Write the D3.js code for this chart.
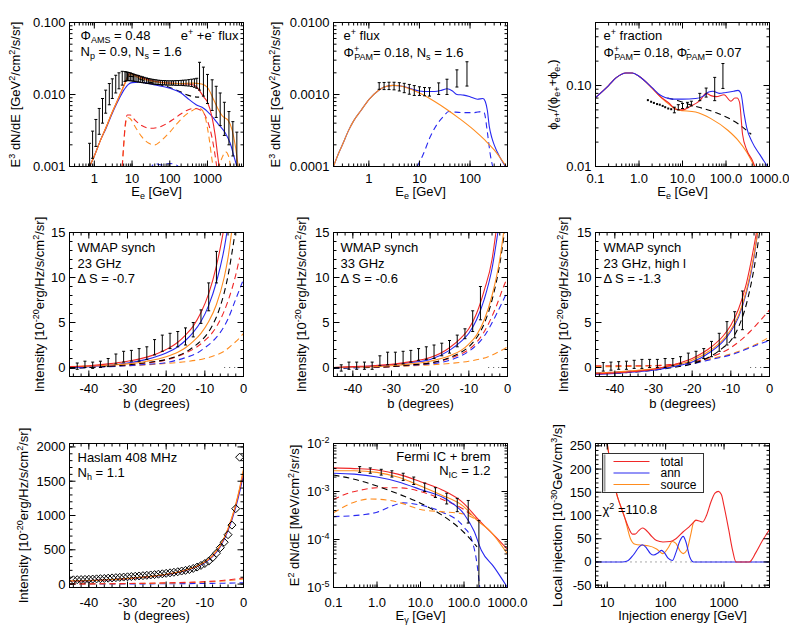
<!DOCTYPE html>
<html><head><meta charset="utf-8">
<script src="https://cdn.jsdelivr.net/npm/d3@7"></script>
<style>
body{margin:0;background:#fff;}
svg text{font-family:"Liberation Sans",Arial,Helvetica,sans-serif;font-size:13px;fill:#000;}
</style></head><body>
<svg id="chart" width="789" height="631"></svg>
<script>
// ---------- data ----------
// panel 1: e+ + e- flux   [E, value]  / bars [E, lo, hi]
var p1Red = [[0.75,0.001],[1,0.0014],[1.5,0.0024],[2,0.0034],[3,0.0057],[4,0.008],[5,0.0105],[6,0.013],[7,0.0158],[8,0.0186],[9,0.0195],[10,0.0193],[15,0.0178],[20,0.0168],[40,0.0153],[100,0.0144],[200,0.0141],[300,0.014],[450,0.0134],[600,0.0115],[800,0.0092],[1000,0.0078],[1300,0.005],[1600,0.0027],[1900,0.0013],[2100,0.0009]];
var p1Orange = [[0.75,0.001],[1,0.0014],[1.5,0.0024],[2,0.0034],[3,0.0057],[4,0.008],[5,0.0105],[6,0.013],[7,0.0158],[8,0.0182],[9,0.019],[10,0.0188],[15,0.0172],[20,0.0163],[40,0.015],[100,0.0143],[200,0.0142],[400,0.0144],[700,0.014],[1000,0.0125],[1500,0.0082],[2000,0.006],[2500,0.005],[3500,0.0044],[4500,0.0032],[5500,0.0019],[6500,0.001]];
var p1Blue = [[0.75,0.001],[1,0.0014],[1.5,0.0024],[2,0.0033],[3,0.0055],[4,0.0076],[5,0.0096],[6,0.0114],[7,0.0128],[8,0.0138],[10,0.0146],[15,0.0148],[20,0.0146],[40,0.0136],[100,0.0122],[200,0.0105],[300,0.0088],[500,0.0072],[800,0.0064],[1000,0.0058],[1500,0.0046],[2000,0.0038],[3000,0.0029],[4000,0.0021],[5000,0.0014],[6000,0.001]];
var p1BlackDash = [[8,0.018],[10,0.0178],[15,0.0166],[20,0.0157],[40,0.0142],[100,0.0125],[200,0.0108],[300,0.0098],[450,0.0093],[600,0.0092]];
var p1RedDash = [[5.5,0.001],[6,0.002],[6.5,0.0035],[7.5,0.0052],[9,0.0052],[12,0.0044],[18,0.0037],[30,0.0034],[50,0.0035],[80,0.0039],[130,0.0046],[200,0.0054],[300,0.0061],[450,0.0064],[600,0.0062],[800,0.0055],[1000,0.0043],[1300,0.0026],[1600,0.0014],[1800,0.0009]];
var p1OrangeDash = [[5.5,0.001],[6,0.0019],[6.5,0.0033],[7.5,0.0048],[9,0.0046],[12,0.0036],[18,0.0026],[28,0.0021],[40,0.002],[60,0.0023],[100,0.003],[160,0.004],[250,0.0051],[400,0.006],[550,0.0065],[700,0.0062],[900,0.0045],[1100,0.0025],[1300,0.0013],[1450,0.0009]];
var p1OrangeDash2 = [[1900,0.0009],[2400,0.0013],[3000,0.0016],[3600,0.0014],[4200,0.0009]];
var p1BlueDash = [[30,0.0009],[40,0.0011],[60,0.00105],[100,0.0011],[150,0.00105],[200,0.0009]];
var p1Bars = [[0.75,0.0009,0.0021],[0.9,0.0013,0.0031],[1.1,0.0019,0.0045],[1.35,0.0028,0.0064],[1.65,0.004,0.0088],[2.0,0.0055,0.0115],[2.5,0.0072,0.0142],[3.0,0.0088,0.0165],[3.7,0.0105,0.0185],[4.5,0.012,0.02],[5.5,0.0135,0.021],
  [6.5,0.0152,0.0208],[7,0.0155,0.0206],[7.6,0.0156,0.0204],[8.2,0.0156,0.0202],[9,0.0155,0.02],[10,0.0154,0.0196],[11,0.0153,0.0192],[12,0.0152,0.0189],[13.5,0.015,0.0186],[15,0.0149,0.0183],[17,0.0147,0.0179],[19,0.0146,0.0176],[21,0.0145,0.0173],[24,0.0143,0.017],[27,0.0142,0.0167],[30,0.0141,0.0165],[34,0.014,0.0163],[38,0.0139,0.0161],[43,0.0138,0.016],[49,0.0137,0.0158],[56,0.0137,0.0157],[64,0.0136,0.0156],[73,0.0136,0.0156],[83,0.0135,0.0155],[95,0.0135,0.0155],[110,0.0135,0.0155],[125,0.0135,0.0155],[145,0.0134,0.0156],[170,0.0134,0.0156],[200,0.0134,0.0157],[230,0.0133,0.0158],[270,0.0132,0.0159],[320,0.0131,0.0161],[380,0.0129,0.0163],[450,0.0126,0.0165],[520,0.0122,0.0168],
  [615,0.0115,0.028],[780,0.0095,0.024],[1000,0.0075,0.019],[1330,0.006,0.016],[1700,0.0048,0.013],[2170,0.0037,0.0105],[2800,0.0027,0.0078],[3700,0.002,0.0058],[4700,0.0014,0.0042],[6000,0.001,0.003]];

// panel 2: e+ flux
var p2Orange = [[0.2,0.0001],[0.25,0.00015],[0.3,0.0002],[0.4,0.00032],[0.5,0.00043],[0.7,0.0006],[1,0.00085],[1.5,0.00112],[2,0.00127],[3,0.00134],[4,0.00132],[6,0.00122],[10,0.00105],[20,0.0008],[36,0.00061],[60,0.00047],[120,0.00032],[200,0.00023],[300,0.00017],[520,0.0001]];
var p2Blue = [[0.2,0.0001],[0.25,0.00015],[0.3,0.0002],[0.4,0.00032],[0.5,0.00043],[0.7,0.0006],[1,0.00085],[1.5,0.00112],[2,0.00127],[3,0.00134],[4,0.00132],[6,0.00124],[8,0.00116],[10,0.00112],[15,0.0011],[20,0.0011],[28,0.00115],[35,0.0012],[45,0.00112],[55,0.001],[75,0.00098],[100,0.00093],[140,0.00086],[180,0.00088],[200,0.0008],[220,0.0006],[240,0.00036],[270,0.00025],[300,0.0002],[400,0.00013],[500,0.0001]];
var p2BlueDash = [[9,0.0001],[12,0.00015],[16,0.00025],[22,0.00038],[30,0.0005],[38,0.00058],[50,0.00057],[80,0.00056],[120,0.00056],[170,0.00058],[190,0.00056],[220,0.0003],[250,0.00015],[280,0.0001]];
var p2Bars = [[1.6,0.00118,0.00146],[2.0,0.00117,0.00147],[2.5,0.00117,0.00148],[3.15,0.00116,0.00148],[4.0,0.00112,0.00146],[5.0,0.00106,0.00143],[6.3,0.00101,0.00138],[7.9,0.00097,0.00133],[10,0.00097,0.00128],[12.6,0.00096,0.00125],[15.8,0.00095,0.00124],[24,0.001,0.00145],[35,0.001,0.00163],[55,0.00127,0.0022],[87,0.00131,0.00285]];

// panel 3: positron fraction
var p3Orange = [[0.1,0.071],[0.2,0.1],[0.3,0.125],[0.5,0.143],[0.7,0.143],[1,0.13],[2,0.093],[3,0.074],[5,0.058],[8,0.05],[20,0.047],[45,0.039],[110,0.028],[190,0.021],[300,0.015],[450,0.01]];
var p3Blue = [[0.1,0.071],[0.2,0.1],[0.3,0.125],[0.5,0.143],[0.7,0.143],[1,0.13],[2,0.094],[3,0.077],[4,0.071],[6,0.068],[10,0.068],[20,0.069],[30,0.074],[40,0.083],[50,0.085],[70,0.08],[100,0.082],[150,0.085],[190,0.087],[220,0.08],[260,0.045],[300,0.03],[400,0.02],[600,0.014],[900,0.01]];
var p3Red = [[0.1,0.071],[0.2,0.1],[0.3,0.125],[0.5,0.143],[0.7,0.143],[1,0.13],[2,0.093],[3,0.074],[5,0.06],[7,0.051],[10,0.05],[15,0.055],[25,0.065],[35,0.08],[45,0.075],[60,0.073],[90,0.077],[130,0.064],[160,0.07],[180,0.07],[205,0.062],[240,0.025],[300,0.016],[400,0.012],[460,0.01]];
var p3BlackDash = [[4.5,0.07],[8,0.065],[15,0.058],[30,0.052],[60,0.046],[110,0.04],[200,0.033],[380,0.025]];
var p3Dots = [[1.6,0.066],[1.9,0.063],[2.2,0.061],[2.6,0.059],[3.0,0.058],[3.5,0.056],[4.0,0.054],[4.7,0.052],[5.5,0.051]];
var p3Bars = [[6.5,0.046,0.054],[8,0.05,0.058],[10,0.052,0.06],[13,0.054,0.062],[16,0.056,0.064],[25,0.065,0.08],[35,0.072,0.093],[55,0.065,0.126],[85,0.092,0.187]];

// panel 4: WMAP 23 GHz   [b, value] / bars [b, lo, hi]
var p4Red = [[-45,0.1],[-40,0.2],[-35,0.4],[-30,0.7],[-25,1.15],[-20,2.0],[-17,2.8],[-15,3.6],[-13,4.6],[-11,6.1],[-9,8.2],[-7,11.3],[-6,13.3],[-5,15.6]];
var p4Blue = [[-45,0.0],[-40,0.1],[-35,0.25],[-30,0.5],[-25,0.9],[-20,1.6],[-17,2.3],[-15,3.0],[-13,3.9],[-11,5.1],[-9,6.9],[-7,9.5],[-5,13.2],[-4,15.8]];
var p4Orange = [[-45,0.1],[-40,0.15],[-35,0.25],[-30,0.4],[-25,0.7],[-20,1.2],[-17,1.7],[-15,2.2],[-13,2.9],[-11,3.8],[-9,5.1],[-7,7.0],[-5,10.0],[-4,12.2],[-3,15.3]];
var p4BlackDash = [[-45,-0.1],[-40,0.0],[-30,0.3],[-25,0.55],[-20,0.9],[-15,1.7],[-12,2.6],[-10,3.4],[-8,4.7],[-6,6.8],[-4,10.2],[-3,12.7],[-2,15.5]];
var p4RedDash = [[-45,0.0],[-40,0.1],[-30,0.3],[-25,0.5],[-20,0.85],[-15,1.6],[-12,2.3],[-10,3.0],[-8,3.9],[-6,5.3],[-4,7.4],[-2,10.3],[-1,12.2]];
var p4BlueDash = [[-45,-0.1],[-40,0.0],[-30,0.2],[-25,0.35],[-20,0.55],[-15,1.1],[-12,1.6],[-10,2.2],[-8,2.9],[-6,3.9],[-4,5.4],[-2,7.6],[0,9.8]];
var p4OrangeDash = [[-45,0.0],[-40,0.05],[-30,0.2],[-25,0.3],[-20,0.45],[-15,0.65],[-10,1.0],[-7,1.4],[-5,1.8],[-3,2.5],[-1,3.3],[0,3.8]];
var p4Bars = [[-43,-0.2,0.5],[-41,0.0,0.7],[-39,-0.1,0.6],[-37,0.0,0.7],[-35,0.1,1.0],[-33,0.4,1.5],[-31,0.6,1.8],[-29,0.7,1.9],[-27,0.7,2.1],[-25,0.9,2.3],[-23,1.4,3.1],[-21,1.8,3.6],[-19,2.1,3.8],[-17,2.3,4.0],[-15,2.5,4.4],[-13,3.4,5.0],[-11,4.9,6.4],[-9,6.3,9.4],[-7,9.4,12.9]];

// panel 5: WMAP 33 GHz
var p5Red = [[-45,0.0],[-40,0.1],[-35,0.2],[-30,0.35],[-25,0.65],[-20,1.1],[-15,2.2],[-12,3.3],[-10,4.3],[-8,6.0],[-6,8.6],[-4,12.0],[-3,15.0]];
var p5Blue = [[-45,0.0],[-40,0.05],[-35,0.15],[-30,0.3],[-25,0.55],[-20,0.9],[-15,1.9],[-12,2.9],[-10,3.8],[-8,5.3],[-6,7.6],[-4,11.0],[-2.5,15.0]];
var p5Orange = [[-45,0.0],[-40,0.05],[-30,0.2],[-25,0.4],[-20,0.7],[-15,1.3],[-12,1.9],[-10,2.6],[-8,3.6],[-6,5.3],[-4,8.0],[-2,12.0],[-1,15.0]];
var p5BlackDash = [[-45,-0.1],[-40,0.0],[-30,0.1],[-25,0.3],[-20,0.5],[-15,1.1],[-12,1.7],[-10,2.3],[-8,3.3],[-6,4.9],[-4,7.5],[-2,11.5],[-0.8,15.0]];
var p5RedDash = [[-45,0.0],[-40,0.0],[-30,0.1],[-25,0.3],[-20,0.5],[-15,1.0],[-12,1.5],[-10,2.0],[-8,2.8],[-6,4.0],[-3,6.7],[-1,9.0],[0,10.0]];
var p5BlueDash = [[-45,-0.1],[-40,-0.05],[-30,0.1],[-25,0.25],[-20,0.4],[-15,0.8],[-12,1.3],[-10,1.8],[-8,2.5],[-6,3.5],[-3,5.8],[0,8.5]];
var p5OrangeDash = [[-45,0.0],[-40,0.0],[-30,0.1],[-20,0.3],[-15,0.45],[-10,0.7],[-5,1.2],[-2,1.8],[0,2.3]];
var p5Bars = [[-43,-0.4,0.3],[-41,-0.2,0.6],[-39,-0.2,0.6],[-37,-0.2,0.6],[-35,-0.2,0.6],[-33,0.2,1.3],[-31,0.3,1.7],[-29,0.3,1.7],[-27,0.4,1.8],[-25,0.6,1.9],[-23,0.8,2.1],[-21,0.9,2.3],[-19,1.0,2.5],[-17,1.3,2.7],[-15,1.6,3.0],[-13,2.3,3.6],[-11,3.2,4.3],[-9,4.0,6.3],[-7,5.3,9.0]];

// panel 6: WMAP 23 GHz, high l
var p6Red = [[-45,-0.7],[-40,-0.6],[-35,-0.45],[-30,-0.2],[-25,0.3],[-20,1.0],[-15,2.3],[-12,3.5],[-10,4.7],[-8,6.5],[-6,9.3],[-4,13.5],[-3.3,15.2]];
var p6Blue = [[-45,-0.75],[-40,-0.65],[-35,-0.5],[-30,-0.3],[-25,0.1],[-20,0.6],[-15,1.8],[-12,2.9],[-10,4.0],[-8,5.6],[-6,8.3],[-4,12.3],[-3,15.2]];
var p6Orange = [[-45,-0.6],[-40,-0.5],[-35,-0.35],[-30,-0.15],[-25,0.2],[-20,0.8],[-15,2.0],[-12,3.1],[-10,4.2],[-8,5.8],[-6,8.5],[-4,12.5],[-3,15.2]];
var p6BlackDash = [[-45,-0.7],[-35,-0.5],[-25,0.0],[-20,0.4],[-15,1.3],[-12,2.2],[-10,3.0],[-8,4.5],[-6,7.0],[-4,11.0],[-2.5,15.2]];
var p6RedDash = [[-45,0.2],[-40,0.2],[-30,0.2],[-25,0.35],[-20,0.6],[-15,1.2],[-10,2.2],[-5,4.0],[-2,5.4],[0,6.4]];
var p6BlueDash = [[-45,-0.6],[-40,-0.5],[-30,-0.2],[-25,0.1],[-20,0.4],[-15,0.9],[-10,1.4],[-5,2.2],[-2,2.7],[0,3.0]];
var p6OrangeDash = [[-45,0.1],[-40,0.1],[-30,0.2],[-25,0.3],[-20,0.5],[-15,1.0],[-10,1.5],[-5,2.3],[-2,2.9],[0,3.4]];
var p6Bars = [[-43,-0.4,0.55],[-41,-0.3,0.6],[-39,-0.2,0.65],[-37,-0.2,0.7],[-35,-0.1,0.8],[-33,-0.1,0.9],[-31,0.0,0.9],[-29,0.0,0.9],[-27,0.0,1.0],[-25,0.2,1.0],[-23,0.4,1.2],[-21,0.5,1.6],[-19,0.7,1.8],[-17,1.0,2.1],[-15,1.2,2.9],[-13,1.8,3.8],[-11,2.5,5.1],[-9,3.3,6.2],[-7,4.2,8.5]];

// panel 7: Haslam 408 MHz
var p7Diamonds = [[-44,62],[-43,64],[-42,66],[-41,68],[-40,70],[-39,73],[-38,76],[-37,79],[-36,82],[-35,86],[-34,90],[-33,94],[-32,98],[-31,102],[-30,106],[-29,110],[-28,114],[-27,118],[-26,123],[-25,128],[-24,133],[-23,138],[-22,144],[-21,150],[-20,157],[-19,164],[-18,172],[-17,180],[-16,190],[-15,200],[-14,212],[-13,228],[-12,248],[-11,272],[-10,300],[-9,335],[-8,385],[-7,450],[-6,530],[-5,610],[-4,720],[-3,860],[-2,1100],[-1,1850]];
var p7Red = [[-45,45],[-40,50],[-35,62],[-30,80],[-25,105],[-20,140],[-15,200],[-12,260],[-10,320],[-8,410],[-6,560],[-4,800],[-2,1150],[-1,1380],[0,1650]];
var p7Blue = [[-45,44],[-40,49],[-35,61],[-30,78],[-25,103],[-20,137],[-15,196],[-12,255],[-10,312],[-8,400],[-6,545],[-4,780],[-2,1120],[-1,1340],[0,1600]];
var p7Orange = [[-45,46],[-40,51],[-35,63],[-30,81],[-25,106],[-20,142],[-15,203],[-12,264],[-10,325],[-8,416],[-6,568],[-4,812],[-2,1165],[-1,1400],[0,1680]];
var p7RedDash = [[-45,2],[-30,8],[-20,18],[-10,35],[-5,55],[-2,75],[0,90]];
var p7OrangeDash = [[-45,2],[-30,7],[-20,15],[-10,30],[-5,45],[-2,60],[0,75]];
var p7BlueDash = [[-45,0],[-30,2],[-20,5],[-10,9],[-5,13],[0,18]];

// panel 8: Fermi IC + brem
var p8Red = [[0.1,0.0031],[0.3,0.003],[1,0.0028],[3,0.0023],[10,0.0016],[30,0.0011],[100,0.00056],[200,0.00028],[300,0.00019],[500,0.00012],[1000,0.000062]];
var p8Orange = [[0.1,0.0027],[0.3,0.0027],[1,0.0025],[3,0.002],[10,0.0013],[30,0.00085],[100,0.00048],[200,0.00025],[400,0.00015],[1000,0.00005]];
var p8Blue = [[0.1,0.0024],[0.3,0.0023],[1,0.002],[3,0.0016],[10,0.0011],[40,0.00068],[100,0.00034],[170,0.00015],[250,0.00006],[500,0.000026],[1000,0.00001]];
var p8BlackDash = [[0.1,0.0022],[0.3,0.0018],[1,0.0013],[3,0.0009],[10,0.00057],[30,0.00033],[100,0.00014],[200,0.00007]];
var p8RedDash = [[0.1,0.00068],[0.2,0.0009],[0.5,0.0011],[1,0.0012],[3,0.0012],[10,0.001],[30,0.0007],[100,0.00042],[200,0.00026]];
var p8OrangeDash = [[0.1,0.00036],[0.3,0.0006],[0.7,0.0007],[2,0.00065],[5,0.00052],[10,0.00042],[30,0.00038],[100,0.00034],[200,0.00025]];
var p8BlueDash = [[0.1,0.0003],[0.5,0.00033],[1,0.00037],[2,0.00048],[4,0.00058],[10,0.00052],[30,0.00038],[100,0.00018],[150,0.0001],[200,0.00003],[230,0.00001]];
var p8Bars = [[0.4,0.0025,0.0033],[0.7,0.0024,0.0031],[1.25,0.0022,0.0029],[2.2,0.002,0.0027],[4,0.0017,0.0024],[7,0.0014,0.002],[12.5,0.001,0.0015],[22,0.00075,0.0012],[40,0.00055,0.00092],[70,0.00038,0.00072],[125,0.00022,0.00065],[220,0.00001,0.00025]];

// panel 9: local injection
var p9Total = [[10,255],[11,220],[13,170],[15,140],[17,120],[20,95],[23,75],[27,60],[30,60],[35,68],[40,73],[45,70],[55,58],[70,46],[90,43],[120,44],[150,50],[200,65],[250,75],[300,85],[330,90],[380,88],[430,86],[500,100],[600,130],[700,148],[800,152],[900,145],[1000,120],[1200,70],[1400,25],[1600,0],[2700,0],[3500,20],[4500,45],[6000,70]];
var p9Ann = [[6,0],[18,0],[22,2],[28,15],[35,32],[40,37],[47,30],[55,18],[62,15],[75,20],[85,25],[95,20],[110,8],[130,3],[150,20],[175,45],[200,55],[220,45],[260,10],[300,0],[6000,0]];
var p9Source = [[10,255],[13,170],[15,140],[20,95],[25,50],[30,38],[40,36],[50,35],[70,28],[90,18],[110,30],[130,44],[150,40],[180,22],[200,18],[230,25],[270,60],[300,85],[330,90]];
var p9Legend = ["total", "ann", "source"];

// tick labels
var p1YLabels = ["0.001", "0.010", "0.100"];
var p1XLabels = ["1", "10", "100", "1000"];
var p2YLabels = ["0.0001", "0.0010", "0.0100"];
var p2XLabels = ["1", "10", "100"];
var p3YLabels = ["0.01", "0.10"];
var p3XLabels = ["0.1", "1.0", "10.0", "100.0", "1000.0"];
var bXLabels = ["-40", "-30", "-20", "-10", "0"];
var wYLabels = ["0", "5", "10", "15"];
var p7YLabels = ["0", "500", "1000", "1500", "2000"];
var p8YLabels = ["-5", "-4", "-3", "-2"];
var p9YLabels = ["-50", "0", "50", "100", "150", "200", "250"];
var p9XLabels = ["10", "100", "1000"];

// ---------- drawing ----------
var RED = "#f02828", BLUE = "#2828f0", ORANGE = "#ff8c1e";
var svg = d3.select("#chart");
var W = 174, H = 144;
var colX = [69, 333, 595], rowY = [22, 232, 443];
var tickGap = [16, 16, 19], titleBase = [195, 407, 619];
var clipN = 0;

function setup(col, row, x, y) {
  var g = svg.append("g").attr("transform", "translate(" + (colX[col] + 0.5) + "," + (rowY[row] + 0.5) + ")");
  x.range([0, W]); y.range([H, 0]);
  var id = "clip" + (clipN++);
  g.append("clipPath").attr("id", id).append("rect").attr("width", W).attr("height", H);
  var plot = g.append("g").attr("clip-path", "url(#" + id + ")");
  return {g: g, plot: plot, x: x, y: y, col: col, row: row};
}

function rich(sel, x, y, parts, anchor) {
  var t = sel.append("text").attr("x", x).attr("y", y).attr("text-anchor", anchor || "start");
  var cur = 0;
  parts.forEach(function(p) {
    var s = typeof p === "string" ? p : p[0];
    var m = typeof p === "string" ? "n" : p[1];
    var off = m === "sup" ? -5 : m === "sub" ? 3 : 0;
    var ts = t.append("tspan").attr("dy", off - cur).text(s);
    if (m !== "n") ts.style("font-size", "9px");
    if (typeof p !== "string" && p[2]) ts.attr("dx", p[2]);
    cur = off;
  });
  return t;
}

function logMinor(d) {
  var out = [];
  for (var e = Math.floor(Math.log10(d[0])); e <= Math.ceil(Math.log10(d[1])); e++)
    for (var k = 1; k < 10; k++) {
      var v = k * Math.pow(10, e);
      if (v >= d[0] * 0.999 && v <= d[1] * 1.001) out.push(v);
    }
  return out;
}
function linMinor(d, step) { return d3.range(Math.ceil(d[0] / step) * step, d[1] + step / 100, step); }

function axes(p, xMajor, xLabels, xMinor, yMajor, yLabels, yMinor, yRich) {
  var g = p.g.append("g");
  var tk = g.append("g").attr("stroke", "#000").attr("stroke-width", 1);
  function tick(x1, y1, x2, y2) { tk.append("line").attr("x1", x1).attr("y1", y1).attr("x2", x2).attr("y2", y2); }
  xMinor.forEach(function(v) { var X = p.x(v); tick(X, H, X, H - 3); tick(X, 0, X, 3); });
  xMajor.forEach(function(v) { var X = p.x(v); tick(X, H, X, H - 6); tick(X, 0, X, 6); });
  yMinor.forEach(function(v) { var Y = p.y(v); tick(0, Y, 3, Y); tick(W, Y, W - 3, Y); });
  yMajor.forEach(function(v) { var Y = p.y(v); tick(0, Y, 6, Y); tick(W, Y, W - 6, Y); });
  g.append("rect").attr("width", W).attr("height", H).attr("fill", "none").attr("stroke", "#000");
  xMajor.forEach(function(v, i) { g.append("text").attr("x", p.x(v)).attr("y", H + tickGap[p.row]).attr("text-anchor", "middle").text(xLabels[i]); });
  yMajor.forEach(function(v, i) {
    if (yRich) rich(g, -4, p.y(v) + 4.5, ["10", [yLabels[i], "sup"]], "end");
    else g.append("text").attr("x", -4).attr("y", p.y(v) + 4.5).attr("text-anchor", "end").text(yLabels[i]);
  });
}

function titles(p, yx, yParts, xParts) {
  var rg = p.g.append("g").attr("transform", "translate(" + (yx - colX[p.col]) + "," + (H / 2) + ") rotate(-90)");
  rich(rg, 0, 4.5, yParts, "middle");
  rich(p.g, W / 2, titleBase[p.row] - rowY[p.row], xParts, "middle");
}

function curve(p, pts, color, dashed) {
  p.plot.append("path").datum(pts)
    .attr("d", d3.line().x(function(d) { return p.x(d[0]); }).y(function(d) { return p.y(d[1]); }).curve(d3.curveMonotoneX))
    .attr("fill", "none").attr("stroke", color).attr("stroke-width", 1.1)
    .attr("stroke-dasharray", dashed ? "6,4" : null);
}

function bars(p, data) {
  var g = p.plot.append("g").attr("stroke", "#000").attr("stroke-width", 1);
  data.forEach(function(d) {
    var X = p.x(d[0]), y1 = p.y(d[1]), y2 = p.y(d[2]);
    g.append("line").attr("x1", X).attr("x2", X).attr("y1", y1).attr("y2", y2);
    g.append("line").attr("x1", X - 1.5).attr("x2", X + 1.5).attr("y1", y1).attr("y2", y1);
    g.append("line").attr("x1", X - 1.5).attr("x2", X + 1.5).attr("y1", y2).attr("y2", y2);
  });
}

function zeroDots(p, x0, x1) {
  p.plot.append("line").attr("x1", p.x(x0)).attr("x2", p.x(x1)).attr("y1", p.y(0)).attr("y2", p.y(0))
    .attr("stroke", "#555").attr("stroke-dasharray", "1,4");
}

var eFluxY = ["E", ["3", "sup"], " dN/dE [GeV", ["2", "sup"], "/cm", ["2", "sup"], "/s/sr]"];
var eX = ["E", ["e", "sub"], " [GeV]"];
var intY = ["Intensity [10", ["-20", "sup"], "erg/Hz/s/cm", ["2", "sup"], "/sr]"];
var bX = ["b (degrees)"];

// ---- panel 1
var p1 = setup(0, 0, d3.scaleLog().domain([0.22, 9000]), d3.scaleLog().domain([0.001, 0.1]));
curve(p1, p1BlueDash, BLUE, true);
curve(p1, p1OrangeDash, ORANGE, true);
curve(p1, p1OrangeDash2, ORANGE, true);
curve(p1, p1RedDash, RED, true);
curve(p1, p1BlackDash, "#000", true);
curve(p1, p1Blue, BLUE);
curve(p1, p1Red, RED);
curve(p1, p1Orange, ORANGE);
bars(p1, p1Bars);
axes(p1, [1, 10, 100, 1000], p1XLabels, logMinor([0.22, 9000]), [0.001, 0.01, 0.1], p1YLabels, logMinor([0.001, 0.1]));
titles(p1, 15, eFluxY, eX);
rich(p1.g, 11, 17, ["Φ", ["AMS", "sub"], " = 0.48"]);
rich(p1.g, 169, 17, ["e", ["+", "sup"], " +e", ["-", "sup"], " flux"], "end");
rich(p1.g, 11, 33, ["N", ["p", "sub"], " = 0.9, N", ["s", "sub"], " = 1.6"]);

// ---- panel 2
var p2 = setup(1, 0, d3.scaleLog().domain([0.2, 550]), d3.scaleLog().domain([0.0001, 0.01]));
curve(p2, p2BlueDash, BLUE, true);
curve(p2, p2Blue, BLUE);
curve(p2, p2Orange, ORANGE);
bars(p2, p2Bars);
axes(p2, [1, 10, 100], p2XLabels, logMinor([0.2, 550]), [0.0001, 0.001, 0.01], p2YLabels, logMinor([0.0001, 0.01]));
titles(p2, 275, eFluxY, eX);
rich(p2.g, 10, 17, ["e", ["+", "sup"], " flux"]);
rich(p2.g, 10, 34, ["Φ", ["+", "sup"], ["PAM", "sub", -5], "= 0.18, N", ["s", "sub"], " = 1.6"]);

// ---- panel 3
var p3 = setup(2, 0, d3.scaleLog().domain([0.1, 1000]), d3.scaleLog().domain([0.01, 0.6]));
curve(p3, p3BlackDash, "#000", true);
curve(p3, p3Orange, ORANGE);
curve(p3, p3Red, RED);
curve(p3, p3Blue, BLUE);
p3Dots.forEach(function(d) { p3.plot.append("rect").attr("x", p3.x(d[0]) - 1).attr("y", p3.y(d[1]) - 1).attr("width", 2).attr("height", 2).attr("fill", "#000"); });
bars(p3, p3Bars);
axes(p3, [0.1, 1, 10, 100, 1000], p3XLabels, logMinor([0.1, 1000]), [0.01, 0.1], p3YLabels, logMinor([0.01, 0.6]));
titles(p3, 552, ["ϕ", ["e+", "sub"], "/(ϕ", ["e+", "sub"], "+ϕ", ["e-", "sub"], ")"], eX);
rich(p3.g, 8, 17, ["e", ["+", "sup"], " fraction"]);
rich(p3.g, 8, 34, ["Φ", ["+", "sup"], ["PAM", "sub", -5], "= 0.18, Φ", ["-", "sup"], ["PAM", "sub", -4], "= 0.07"]);

// ---- WMAP panels
function wmap(col, red, blue, orange, bdash, rdash, bldash, odash, data, lines) {
  var p = setup(col, 1, d3.scaleLinear().domain([-45, 0]), d3.scaleLinear().domain([-1, 15]));
  zeroDots(p, -5, -0.5);
  curve(p, odash, ORANGE, true);
  curve(p, bldash, BLUE, true);
  curve(p, rdash, RED, true);
  curve(p, bdash, "#000", true);
  curve(p, blue, BLUE);
  curve(p, orange, ORANGE);
  curve(p, red, RED);
  bars(p, data);
  axes(p, [-40, -30, -20, -10, 0], bXLabels, linMinor([-45, 0], 2), [0, 5, 10, 15], wYLabels, linMinor([-1, 15], 1));
  titles(p, [39, 301, 563][col], intY, bX);
  var tx = [8, 7, 8][col];
  rich(p.g, tx, 19, lines[0]);
  rich(p.g, tx, 35, lines[1]);
  rich(p.g, tx, 50, lines[2]);
  return p;
}
wmap(0, p4Red, p4Blue, p4Orange, p4BlackDash, p4RedDash, p4BlueDash, p4OrangeDash, p4Bars, [["WMAP synch"], ["23 GHz"], ["Δ S = -0.7"]]);
wmap(1, p5Red, p5Blue, p5Orange, p5BlackDash, p5RedDash, p5BlueDash, p5OrangeDash, p5Bars, [["WMAP synch"], ["33 GHz"], ["Δ S = -0.6"]]);
wmap(2, p6Red, p6Blue, p6Orange, p6BlackDash, p6RedDash, p6BlueDash, p6OrangeDash, p6Bars, [["WMAP synch"], ["23 GHz, high l"], ["Δ S = -1.3"]]);

// ---- panel 7
var p7 = setup(0, 2, d3.scaleLinear().domain([-45, 0]), d3.scaleLinear().domain([-50, 2050]));
curve(p7, p7BlueDash, BLUE, true);
curve(p7, p7OrangeDash, ORANGE, true);
curve(p7, p7RedDash, RED, true);
curve(p7, p7Blue, BLUE);
curve(p7, p7Red, RED);
curve(p7, p7Orange, ORANGE);
p7Diamonds.forEach(function(d) {
  p7.plot.append("path").attr("d", "M0,-4L4,0L0,4L-4,0Z")
    .attr("transform", "translate(" + p7.x(d[0]) + "," + p7.y(d[1]) + ")")
    .attr("fill", "none").attr("stroke", "#000").attr("stroke-width", 1);
});
axes(p7, [-40, -30, -20, -10, 0], bXLabels, linMinor([-45, 0], 2), [0, 500, 1000, 1500, 2000], p7YLabels, linMinor([-50, 2050], 100));
titles(p7, 23, intY, bX);
rich(p7.g, 8, 18, ["Haslam 408 MHz"]);
rich(p7.g, 8, 33, ["N", ["h", "sub"], " = 1.1"]);

// ---- panel 8
var p8 = setup(1, 2, d3.scaleLog().domain([0.1, 1000]), d3.scaleLog().domain([1e-5, 1e-2]));
curve(p8, p8BlueDash, BLUE, true);
curve(p8, p8OrangeDash, ORANGE, true);
curve(p8, p8RedDash, RED, true);
curve(p8, p8BlackDash, "#000", true);
curve(p8, p8Blue, BLUE);
curve(p8, p8Red, RED);
curve(p8, p8Orange, ORANGE);
bars(p8, p8Bars);
axes(p8, [0.1, 1, 10, 100, 1000], p3XLabels, logMinor([0.1, 1000]), [1e-5, 1e-4, 1e-3, 1e-2], p8YLabels, logMinor([1e-5, 1e-2]), true);
titles(p8, 294, ["E", ["2", "sup"], " dN/dE [MeV/cm", ["2", "sup"], "/sr/s]"], ["E", ["γ", "sub"], " [GeV]"]);
rich(p8.g, 157, 17, ["Fermi IC + brem"], "end");
rich(p8.g, 157, 31, ["N", ["IC", "sub"], " = 1.2"], "end");

// ---- panel 9
var p9 = setup(2, 2, d3.scaleLog().domain([6.3, 6000]), d3.scaleLinear().domain([-55, 255]));
zeroDots(p9, 6.3, 6000);
curve(p9, p9Source, ORANGE);
curve(p9, p9Ann, BLUE);
curve(p9, p9Total, RED);
axes(p9, [10, 100, 1000], p9XLabels, logMinor([6.3, 6000]), [-50, 0, 50, 100, 150, 200, 250], p9YLabels, linMinor([-55, 255], 10));
titles(p9, 557, ["Local injection [10", ["-30", "sup"], "GeV/cm", ["3", "sup"], "/s]"], ["Injection energy [GeV]"]);
var lg = p9.g.append("g").attr("transform", "translate(7,10)");
lg.append("rect").attr("width", 101).attr("height", 39).attr("fill", "#fff").attr("stroke", "#333");
lg.append("line").attr("x1", 2).attr("x2", 2).attr("y1", 1).attr("y2", 38).attr("stroke", "#999").attr("stroke-width", 2);
[RED, BLUE, ORANGE].forEach(function(c, i) {
  var yy = 8 + i * 11.5;
  lg.append("line").attr("x1", 11).attr("x2", 47).attr("y1", yy).attr("y2", yy).attr("stroke", c).attr("stroke-width", 1.1);
  lg.append("text").attr("x", 58).attr("y", yy + 4).style("font-size", "12px").text(p9Legend[i]);
});
rich(p9.g, 7, 70, ["χ", ["2", "sup"], " =110.8"]);
</script></body></html>
